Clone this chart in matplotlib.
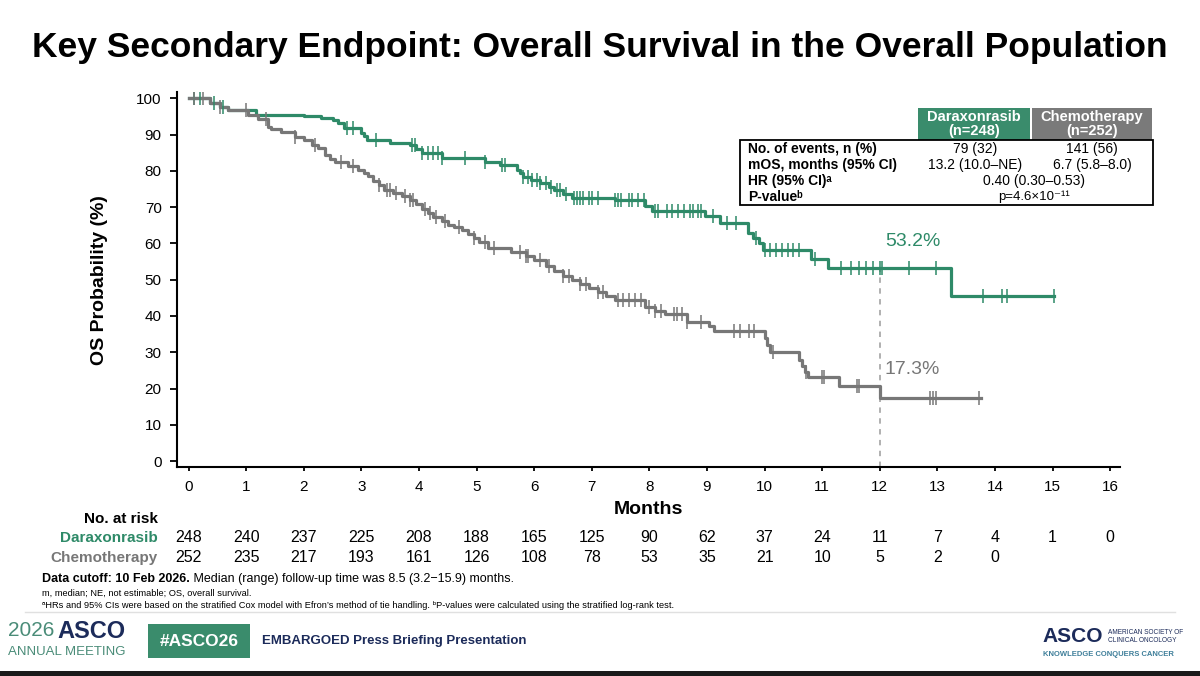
import matplotlib
matplotlib.use("Agg")
import matplotlib.pyplot as plt
import matplotlib.transforms as mtransforms
from matplotlib.patches import Rectangle
import numpy as np

plt.rcParams['font.family'] = ['Liberation Sans', 'DejaVu Sans']

GREEN = '#2e8a68'
GRAY = '#777777'
NAVY = '#1c2b5a'

# Kaplan-Meier steps (months, OS %)
dara_t = [0, 0.38, 0.55, 0.68, 1.17, 2.0, 2.3, 2.5, 2.6, 2.7, 3.0, 3.05, 3.1, 3.5, 3.85,
          3.95, 4.05, 4.4, 5.14, 5.4, 5.7, 5.75, 5.8, 5.95, 6.1, 6.25, 6.35, 6.5, 6.65,
          7.4, 7.93, 8.05, 8.97, 9.23, 9.72, 9.8, 9.9, 9.98, 10.8, 11.1, 13.24, 15.03]
dara_s = [100, 98.6, 97.6, 96.7, 95.5, 95.1, 94.6, 94.0, 93.2, 91.8, 90.4, 89.5, 88.5, 87.8, 87.0,
          86.0, 84.9, 83.5, 82.4, 81.6, 80.3, 79.4, 78.4, 77.6, 76.6, 75.6, 74.6, 73.6, 72.5,
          72.0, 70.2, 69.0, 67.5, 65.7, 63.0, 61.5, 60.0, 58.3, 55.8, 53.2, 45.5, 45.5]
chemo_t = [0, 0.38, 0.55, 0.68, 1.03, 1.2, 1.38, 1.43, 1.6, 1.85, 2.0, 2.14, 2.25, 2.37, 2.45,
           2.55, 2.77, 2.95, 3.05, 3.12, 3.2, 3.3, 3.4, 3.55, 3.7, 3.85, 3.95, 4.05, 4.15,
           4.25, 4.4, 4.5, 4.6, 4.75, 4.85, 4.95, 5.05, 5.2, 5.6, 5.85, 6.0, 6.2, 6.35,
           6.5, 6.65, 6.8, 6.95, 7.1, 7.25, 7.4, 7.93, 8.1, 8.28, 8.66, 9.04, 9.13, 10.0,
           10.05, 10.1, 10.6, 10.65, 10.7, 10.75, 11.3, 12.0, 13.76]
chemo_s = [100, 98.6, 97.6, 96.7, 95.5, 94.4, 92.2, 91.5, 90.6, 89.3, 88.6, 87.2, 86.2, 84.3, 83.2,
           82.5, 81.3, 80.3, 79.4, 78.6, 77.3, 76.0, 74.8, 74.0, 73.0, 71.9, 70.8, 69.6, 68.4,
           67.4, 66.3, 65.2, 64.4, 63.6, 62.6, 61.6, 60.5, 58.8, 57.5, 56.5, 55.3, 53.8, 52.5,
           51.0, 49.8, 48.8, 47.8, 46.7, 45.6, 44.4, 42.5, 41.5, 40.5, 38.4, 37.2, 35.9, 34.0,
           32.0, 30.1, 28.0, 26.2, 24.5, 23.2, 20.6, 17.3, 17.3]

dara_cens = [0.1, 0.2, 0.45, 0.6, 2.75, 2.85, 3.25, 3.88, 3.93, 4.05, 4.15, 4.25, 4.33, 4.4, 4.8,
             5.15, 5.45, 5.5, 5.8, 5.9, 5.97, 6.05, 6.1, 6.2, 6.3, 6.4, 6.45, 6.55, 6.7, 6.75,
             6.8, 6.85, 6.95, 7.0, 7.1, 7.4, 7.45, 7.5, 7.65, 7.7, 7.8, 7.9, 8.1, 8.15, 8.3,
             8.4, 8.5, 8.6, 8.7, 8.75, 8.85, 8.9, 9.1, 9.35, 9.5, 9.85, 10.0, 10.1, 10.2, 10.3,
             10.4, 10.5, 10.6, 10.88, 11.32, 11.5, 11.64, 11.76, 11.88, 12.0, 12.04, 12.5,
             12.98, 13.8, 14.13, 14.2, 15.03]
chemo_cens = [0.1, 0.25, 0.55, 1.0, 1.35, 1.85, 2.2, 2.65, 2.85, 3.3, 3.45, 3.5, 3.6, 3.75, 3.85,
              3.9, 4.1, 4.2, 4.3, 4.45, 4.7, 4.95, 5.15, 5.3, 5.75, 5.85, 5.9, 6.1, 6.25, 6.5,
              6.6, 6.8, 6.9, 7.1, 7.2, 7.45, 7.55, 7.65, 7.75, 7.85, 8.0, 8.1, 8.2, 8.43, 8.48,
              8.57, 8.66, 8.9, 9.47, 9.58, 9.73, 9.82, 10.14, 10.72, 11.0, 11.04, 11.6, 11.64,
              12.87, 12.93, 12.98, 13.73]

months = list(range(0, 17))
risk_dara = [248, 240, 237, 225, 208, 188, 165, 125, 90, 62, 37, 24, 11, 7, 4, 1, 0]
risk_chemo = [252, 235, 217, 193, 161, 126, 108, 78, 53, 35, 21, 10, 5, 2, 0]

landmark = 12
land_dara = 53.2
land_chemo = 17.3

table_rows = ['No. of events, n (%)', 'mOS, months (95% CI)', 'HR (95% CI)\u1d43', 'P-value\u1d47']
table_dara = ['79 (32)', '13.2 (10.0\u2013NE)']
table_chemo = ['141 (56)', '6.7 (5.8\u20138.0)']
table_hr = '0.40 (0.30\u20130.53)'
table_p = 'p=4.6\u00d710\u207b\u00b9\u00b9'

W, H = 1200, 676
fig = plt.figure(figsize=(12, 6.76), dpi=100)


def fy(py):
    return 1 - py / H


def fx(px):
    return px / W


ax = fig.add_axes([fx(177), fy(467.3), fx(1120) - fx(177), fy(91.7) - fy(467.3)])
ax.set_xlim(-0.2, 16.17)
ax.set_ylim(-1.7, 101.8)


def surv_at(tt, ss, x):
    i = np.searchsorted(tt, x, side='right') - 1
    return np.asarray(ss)[i]


for tt, ss, cens, col in [(dara_t, dara_s, dara_cens, GREEN), (chemo_t, chemo_s, chemo_cens, GRAY)]:
    ax.step(tt, ss, where='post', color=col, lw=2.3, zorder=3)
    ax.plot(cens, surv_at(tt, ss, cens), ls='none', marker='|', ms=10, mew=1.1, color=col, zorder=4)

ax.plot([landmark, landmark], [-1.7, land_dara], color='#aaaaaa', lw=1.3, ls=(0, (3, 3)), zorder=2)
ax.text(landmark + 0.1, land_dara + 7.2, f'{land_dara}%', color=GREEN, fontsize=14, va='center', ha='left')
ax.text(landmark + 0.08, land_chemo + 8.0, f'{land_chemo}%', color=GRAY, fontsize=14, va='center', ha='left')

for s in ['top', 'right']:
    ax.spines[s].set_visible(False)
for s in ['left', 'bottom']:
    ax.spines[s].set_linewidth(1.5)
ax.set_xticks(months)
ax.set_yticks(range(0, 101, 10))
ax.tick_params(axis='y', length=5, width=1.3, labelsize=11, pad=6)
ax.tick_params(axis='x', length=3, width=1.3, labelsize=11, pad=6)
ax.set_xlabel('Months', fontsize=14, fontweight='bold', labelpad=5)
fig.text(fx(100), fy(280), 'OS Probability (%)', rotation=90, fontsize=14, fontweight='bold',
         ha='center', va='center')

# title
fig.text(0.5, fy(48), 'Key Secondary Endpoint: Overall Survival in the Overall Population',
         fontsize=25.5, fontweight='bold', ha='center', va='center')

# number at risk
tr = mtransforms.blended_transform_factory(ax.transData, fig.transFigure)
fig.text(fx(158), fy(519), 'No. at risk', fontsize=11, fontweight='bold', ha='right', va='center')
fig.text(fx(158), fy(538), 'Daraxonrasib', fontsize=11, fontweight='bold', color=GREEN, ha='right', va='center')
fig.text(fx(158), fy(558), 'Chemotherapy', fontsize=11, fontweight='bold', color=GRAY, ha='right', va='center')
for m, n in zip(months, risk_dara):
    ax.text(m, fy(538), str(n), transform=tr, fontsize=11.5, ha='center', va='center', clip_on=False)
for m, n in zip(months, risk_chemo):
    ax.text(m, fy(558), str(n), transform=tr, fontsize=11.5, ha='center', va='center', clip_on=False)

# stats table
fig.patches.append(Rectangle((fx(918), fy(140)), fx(1030) - fx(918), fy(108) - fy(140),
                             transform=fig.transFigure, facecolor='#3a8c6c', edgecolor='none'))
fig.patches.append(Rectangle((fx(1032), fy(140)), fx(1152) - fx(1032), fy(108) - fy(140),
                             transform=fig.transFigure, facecolor='#7a7a7a', edgecolor='none'))
fig.patches.append(Rectangle((fx(740), fy(205)), fx(1153) - fx(740), fy(140) - fy(205),
                             transform=fig.transFigure, facecolor='white', edgecolor='black', lw=1.3))
fig.text(fx(974), fy(124), 'Daraxonrasib\n(n=248)', color='white', fontsize=10.5, fontweight='bold',
         ha='center', va='center', linespacing=1.0)
fig.text(fx(1092), fy(124), 'Chemotherapy\n(n=252)', color='white', fontsize=10.5, fontweight='bold',
         ha='center', va='center', linespacing=1.0)
row_y = [149, 165, 181, 197]
for lab, py in zip(table_rows, row_y):
    fig.text(fx(748), fy(py), lab, fontsize=10, fontweight='bold', ha='left', va='center')
for v, py in zip(table_dara, row_y):
    fig.text(fx(975), fy(py), v, fontsize=10, ha='center', va='center')
for v, py in zip(table_chemo, row_y):
    fig.text(fx(1092), fy(py), v, fontsize=10, ha='center', va='center')
fig.text(fx(1034), fy(row_y[2]), table_hr, fontsize=10, ha='center', va='center')
fig.text(fx(1034), fy(row_y[3]), table_p, fontsize=9.5, ha='center', va='center')

# footnotes
t1 = fig.text(fx(42), fy(579), 'Data cutoff: 10 Feb 2026.', fontsize=9, fontweight='bold', ha='left', va='center')
ax.annotate(' Median (range) follow-up time was 8.5 (3.2\u221215.9) months.', xy=(1, 0.5), xycoords=t1,
            fontsize=9, ha='left', va='center', annotation_clip=False)
fig.text(fx(42), fy(593), 'm, median; NE, not estimable; OS, overall survival.', fontsize=6.7, ha='left', va='center')
fig.text(fx(42), fy(606), '\u1d43HRs and 95% CIs were based on the stratified Cox model with Efron\u2019s method of tie '
         'handling. \u1d47P-values were calculated using the stratified log-rank test.',
         fontsize=6.7, ha='left', va='center')

# footer
fig.add_artist(plt.Line2D([fx(25), fx(1175)], [fy(612), fy(612)], color='#e0e0e0', lw=1))
fig.patches.append(Rectangle((0, 0), 1, fy(671), transform=fig.transFigure, facecolor='#1a1a1a', edgecolor='none'))
y26 = fig.text(fx(8), fy(631), '2026', fontsize=15, color='#4a8c78', ha='left', va='center')
ax.annotate('ASCO', xy=(1, 0.5), xycoords=y26, xytext=(2, 0), textcoords='offset points',
            fontsize=17, fontweight='bold', color=NAVY, ha='left', va='center', annotation_clip=False)
fig.text(fx(8), fy(652), 'ANNUAL MEETING', fontsize=9.5, color='#4a8c78', ha='left', va='center')
fig.patches.append(Rectangle((fx(148), fy(658)), fx(250) - fx(148), fy(624) - fy(658),
                             transform=fig.transFigure, facecolor='#3a8c6c', edgecolor='none'))
fig.text(fx(199), fy(641), '#ASCO26', fontsize=12.5, fontweight='bold', color='white', ha='center', va='center')
fig.text(fx(262), fy(641), 'EMBARGOED Press Briefing Presentation', fontsize=9.5, fontweight='bold',
         color=NAVY, ha='left', va='center')
fig.text(fx(1042), fy(636), 'ASCO', fontsize=15, fontweight='bold', color=NAVY, ha='left', va='center')
fig.text(fx(1108), fy(632), 'AMERICAN SOCIETY OF', fontsize=4.7, color=NAVY, ha='left', va='center')
fig.text(fx(1108), fy(640), 'CLINICAL ONCOLOGY', fontsize=4.7, color=NAVY, ha='left', va='center')
fig.text(fx(1043), fy(654), 'KNOWLEDGE CONQUERS CANCER', fontsize=5.5, fontweight='bold', color='#3f7f9a',
         ha='left', va='center')

fig.savefig('out.png', dpi=100)
